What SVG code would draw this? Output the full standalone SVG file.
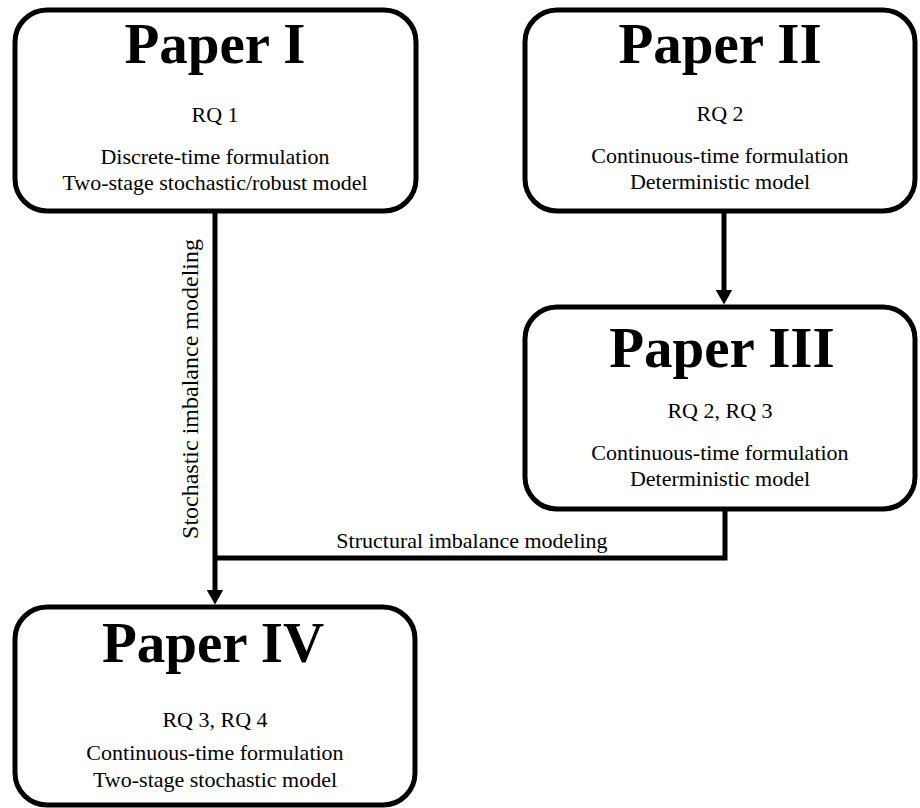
<svg xmlns="http://www.w3.org/2000/svg" width="920" height="808" viewBox="0 0 920 808">
<style>
.box{fill:#fff;stroke:#000;stroke-width:5}
.conn{fill:none;stroke:#000;stroke-width:5;stroke-linejoin:miter}
text{font-family:"Liberation Serif","Times New Roman",serif;fill:#000;text-anchor:middle}
.title{font-size:57px;font-weight:bold}
.body{font-size:22px}
.vlabel{font-size:24px}
</style>
<defs>
<marker id="arr" viewBox="0 0 15 17" refX="0.5" refY="8.5" markerWidth="15" markerHeight="17" markerUnits="userSpaceOnUse" orient="auto">
<path d="M0,0 L15,8.5 L0,17 z" fill="#000"/>
</marker>
</defs>
<g id="connectors">
<path class="conn" d="M215,211 V590" marker-end="url(#arr)"/>
<path class="conn" d="M724,211 V290" marker-end="url(#arr)"/>
<path class="conn" d="M725,509 V558 H215"/>
<text class="vlabel" transform="translate(198,389) rotate(-90)">Stochastic imbalance modeling</text>
<text class="body" x="472" y="548">Structural imbalance modeling</text>
</g>
<g id="paper1">
<rect class="box" x="15" y="10" width="401" height="201" rx="32" ry="32"/>
<text class="title" x="215" y="63">Paper I</text>
<text class="body" x="215" y="122">RQ 1</text>
<text class="body" x="215" y="164">Discrete-time formulation</text>
<text class="body" x="215" y="190">Two-stage stochastic/robust model</text>
</g>
<g id="paper2">
<rect class="box" x="525" y="10" width="390" height="201" rx="32" ry="32"/>
<text class="title" x="720" y="63">Paper II</text>
<text class="body" x="720" y="121">RQ 2</text>
<text class="body" x="720" y="163">Continuous-time formulation</text>
<text class="body" x="720" y="189">Deterministic model</text>
</g>
<g id="paper3">
<rect class="box" x="525" y="307" width="390" height="202" rx="32" ry="32"/>
<text class="title" x="722" y="367">Paper III</text>
<text class="body" x="720" y="418">RQ 2, RQ 3</text>
<text class="body" x="720" y="460">Continuous-time formulation</text>
<text class="body" x="720" y="486">Deterministic model</text>
</g>
<g id="paper4">
<rect class="box" x="15" y="607" width="400" height="198" rx="32" ry="32"/>
<text class="title" x="213" y="662">Paper IV</text>
<text class="body" x="215" y="727">RQ 3, RQ 4</text>
<text class="body" x="215" y="760">Continuous-time formulation</text>
<text class="body" x="215" y="787">Two-stage stochastic model</text>
</g>
</svg>
